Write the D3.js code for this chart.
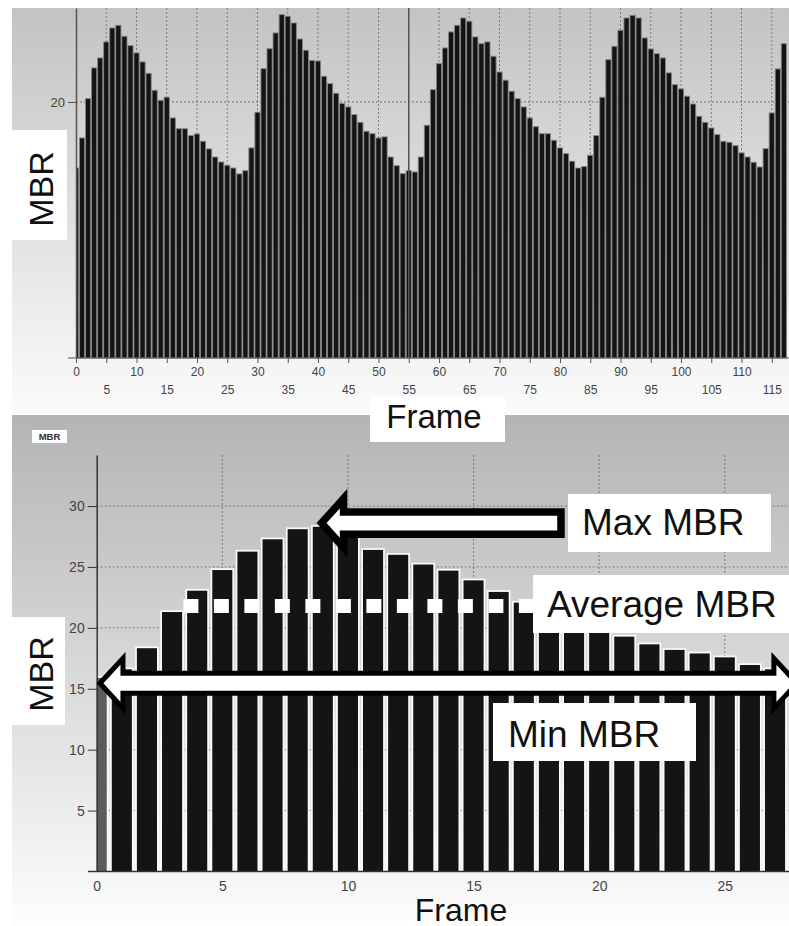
<!DOCTYPE html>
<html>
<head>
<meta charset="utf-8">
<script src="https://cdn.jsdelivr.net/npm/d3@7"></script>
<style>
  body { margin: 0; background: #fff; }
  svg { display: block; font-family: "Liberation Sans", Arial, sans-serif; }
</style>
</head>
<body>
<svg id="chart" width="789" height="926"></svg>
<script>
// MBR per frame, whole sequence (top chart)
const topMBR = [
  14.84, 17.19, 20.26, 22.66, 23.44, 24.69, 25.78, 25.99, 25.13, 24.40,
  23.83, 23.13, 22.24, 20.91, 20.13, 20.37, 18.75, 17.91, 17.91, 17.37,
  17.50, 16.93, 16.33, 15.70, 15.31, 15.05, 14.84, 14.38, 14.63, 16.41,
  19.20, 22.60, 24.16, 25.39, 26.82, 26.70, 26.17, 24.92, 24.04, 23.23,
  23.20, 22.01, 21.43, 20.68, 19.87, 19.61, 19.01, 18.41, 17.71, 17.52,
  17.19, 17.27, 15.70, 15.02, 14.40, 14.63, 14.53, 15.70, 18.18, 20.96,
  22.99, 24.22, 25.47, 25.99, 26.56, 26.30, 25.08, 24.55, 24.69, 23.57,
  22.34, 21.70, 20.84, 20.26, 19.61, 18.75, 18.07, 17.52, 17.52, 17.01,
  16.41, 15.96, 15.37, 14.84, 14.95, 15.84, 17.37, 20.37, 23.30, 24.35,
  25.60, 26.56, 26.77, 26.56, 25.00, 24.14, 23.77, 23.44, 22.27, 21.35,
  21.02, 20.45, 19.84, 18.88, 18.41, 17.97, 17.45, 16.93, 16.85, 16.59,
  16.02, 15.70, 15.29, 14.92, 16.35, 19.14, 22.58, 24.55
];
const topXTicks = [0, 5, 10, 15, 20, 25, 30, 35, 40, 45, 50, 55, 60, 65, 70, 75, 80, 85, 90, 95, 100, 105, 110, 115];
const topYTicks = [20];
const cursorFrame = 55;

// MBR per frame, one cycle (bottom chart)
const bottomMBR = [
  15.9, 16.6, 18.33, 21.3, 23.05, 24.75, 26.26, 27.27, 28.1, 28.3,
  27.7, 26.4, 26.0, 25.2, 24.7, 23.9, 22.95, 22.07, 19.6, 19.6,
  19.6, 19.28, 18.65, 18.19, 17.9, 17.58, 16.95, 16.6
];
const bottomXTicks = [0, 5, 10, 15, 20, 25];
const bottomYTicks = [5, 10, 15, 20, 25, 30];

const maxMBR = 28.6;
const avgMBR = 21.8;
const minMBR = 15.45;

const svg = d3.select('#chart');
const defs = svg.append('defs');

function gradient(id, from, to) {
  const gr = defs.append('linearGradient').attr('id', id)
    .attr('x1', 0).attr('y1', 0).attr('x2', 0).attr('y2', 1);
  gr.append('stop').attr('offset', '0%').attr('stop-color', from);
  gr.append('stop').attr('offset', '100%').attr('stop-color', to);
}
gradient('bgTop', '#c3c3c3', '#fbfbfb');
gradient('bgBot', '#b4b4b4', '#fdfdfd');

defs.append('clipPath').attr('id', 'clipTop')
  .append('rect').attr('x', 76).attr('y', 0).attr('width', 713).attr('height', 360);
defs.append('clipPath').attr('id', 'clipBot')
  .append('rect').attr('x', 96.7).attr('y', 400).attr('width', 700).attr('height', 472);

// panel backgrounds
svg.append('rect').attr('x', 12).attr('y', 8).attr('width', 777).attr('height', 406)
  .attr('fill', 'url(#bgTop)');
svg.append('rect').attr('x', 12).attr('y', 415).attr('width', 777).attr('height', 511)
  .attr('fill', 'url(#bgBot)');

// ---------- top chart ----------
const xTop = d3.scaleLinear().domain([0, 117.85]).range([76, 789]);
const yTop = d3.scaleLinear().domain([0, 27.34]).range([358, 8]);
const gTop = svg.append('g');

gTop.selectAll('line.vgrid').data(topXTicks.filter(d => d > 0))
  .enter().append('line')
  .attr('class', 'vgrid')
  .attr('x1', d => xTop(d)).attr('x2', d => xTop(d))
  .attr('y1', yTop.range()[1]).attr('y2', yTop.range()[0])
  .attr('stroke', '#7d7d7d').attr('stroke-width', 1).attr('stroke-dasharray', '2,2');

gTop.selectAll('line.hgrid').data(topYTicks)
  .enter().append('line')
  .attr('class', 'hgrid')
  .attr('x1', 76).attr('x2', 789)
  .attr('y1', d => yTop(d)).attr('y2', d => yTop(d))
  .attr('stroke', '#6e6e6e').attr('stroke-width', 1).attr('stroke-dasharray', '2,2');

const topStep = xTop(1) - xTop(0);
gTop.append('g').attr('clip-path', 'url(#clipTop)')
  .selectAll('rect').data(topMBR)
  .enter().append('rect')
  .attr('x', (d, i) => xTop(i) - topStep * 0.43)
  .attr('width', topStep * 0.86)
  .attr('y', d => yTop(d))
  .attr('height', d => yTop(0) - yTop(d))
  .attr('fill', '#141414')
  .attr('stroke', '#858585')
  .attr('stroke-width', 0.9);

gTop.append('line')
  .attr('x1', xTop(cursorFrame)).attr('x2', xTop(cursorFrame))
  .attr('y1', yTop.range()[1]).attr('y2', yTop(0))
  .attr('stroke', '#555').attr('stroke-width', 1.5);

// axes
const yAxisTop = gTop.append('g').attr('transform', 'translate(76,0)')
  .call(d3.axisLeft(yTop).tickValues(topYTicks).tickSize(8).tickSizeOuter(0).tickPadding(3));
yAxisTop.select('.domain').attr('stroke', '#555').attr('stroke-width', 1.5);
yAxisTop.selectAll('.tick line').attr('stroke', '#555');
yAxisTop.selectAll('text').attr('font-size', 13).attr('fill', '#444')
  .attr('font-family', '"Liberation Sans", Arial, sans-serif');

gTop.append('line').attr('x1', 68).attr('x2', 789)
  .attr('y1', yTop(0)).attr('y2', yTop(0))
  .attr('stroke', '#555').attr('stroke-width', 1.2);

const xAxisTop = gTop.append('g').attr('transform', `translate(0,${yTop(0)})`)
  .call(d3.axisBottom(xTop).tickValues(topXTicks).tickSize(5).tickSizeOuter(0));
xAxisTop.select('.domain').remove();
xAxisTop.selectAll('.tick line').attr('stroke', '#555');
xAxisTop.selectAll('text')
  .attr('y', d => d % 10 === 0 ? 9 : 27.5)
  .attr('font-size', 12).attr('fill', '#444')
  .attr('font-family', '"Liberation Sans", Arial, sans-serif');

// top labels
svg.append('rect').attr('x', 12).attr('y', 130).attr('width', 55).attr('height', 110).attr('fill', '#fff');
svg.append('text').attr('transform', 'translate(53,189) rotate(-90)')
  .attr('text-anchor', 'middle').attr('font-size', 34).attr('fill', '#111').text('MBR');

svg.append('rect').attr('x', 370).attr('y', 396).attr('width', 135).attr('height', 46).attr('fill', '#fff');
svg.append('text').attr('x', 434).attr('y', 428)
  .attr('text-anchor', 'middle').attr('font-size', 33).attr('fill', '#111').text('Frame');

// ---------- bottom chart ----------
const xBot = d3.scaleLinear().domain([0, 27.556]).range([96.7, 789]);
const yBot = d3.scaleLinear().domain([0, 34.19]).range([871.5, 455]);
const gBot = svg.append('g');

gBot.selectAll('line.hgrid').data(bottomYTicks)
  .enter().append('line')
  .attr('class', 'hgrid')
  .attr('x1', xBot(0)).attr('x2', 789)
  .attr('y1', d => yBot(d)).attr('y2', d => yBot(d))
  .attr('stroke', '#7a7a7a').attr('stroke-dasharray', '2,2');
gBot.selectAll('line.vgrid').data(bottomXTicks.filter(d => d > 0))
  .enter().append('line')
  .attr('class', 'vgrid')
  .attr('x1', d => xBot(d)).attr('x2', d => xBot(d))
  .attr('y1', yBot.range()[1]).attr('y2', yBot(0))
  .attr('stroke', '#7a7a7a').attr('stroke-dasharray', '2,2');

const botStep = xBot(1) - xBot(0);
gBot.append('g').attr('clip-path', 'url(#clipBot)')
  .selectAll('rect').data(bottomMBR)
  .enter().append('rect')
  .attr('x', (d, i) => xBot(i) - botStep * 0.4)
  .attr('width', botStep * 0.8)
  .attr('y', d => yBot(d))
  .attr('height', d => yBot(0) - yBot(d))
  .attr('fill', (d, i) => i === 0 ? '#5c5c5c' : '#141414')
  .attr('stroke', '#fafafa')
  .attr('stroke-width', 3.5)
  .style('paint-order', 'stroke');

const yAxisBot = gBot.append('g').attr('transform', `translate(${xBot(0)},0)`)
  .call(d3.axisLeft(yBot).tickValues(bottomYTicks).tickSize(9).tickSizeOuter(0).tickPadding(3));
yAxisBot.select('.domain').attr('stroke', '#333').attr('stroke-width', 1.5);
yAxisBot.selectAll('.tick line').attr('stroke', '#333');
yAxisBot.selectAll('text').attr('font-size', 14).attr('fill', '#444')
  .attr('font-family', '"Liberation Sans", Arial, sans-serif');

gBot.append('line').attr('x1', 88).attr('x2', 789)
  .attr('y1', yBot(0)).attr('y2', yBot(0))
  .attr('stroke', '#333').attr('stroke-width', 1.5);
const xAxisBot = gBot.append('g').attr('transform', `translate(0,${yBot(0)})`)
  .call(d3.axisBottom(xBot).tickValues(bottomXTicks).tickSize(0).tickSizeOuter(0));
xAxisBot.select('.domain').remove();
xAxisBot.selectAll('text').attr('y', 10)
  .attr('font-size', 14).attr('fill', '#444')
  .attr('font-family', '"Liberation Sans", Arial, sans-serif');

// average dashes
gBot.append('line')
  .attr('x1', xBot(3.45)).attr('x2', 533)
  .attr('y1', yBot(avgMBR)).attr('y2', yBot(avgMBR))
  .attr('stroke', '#fff').attr('stroke-width', 14)
  .attr('stroke-dasharray', '15,15.5');

function leftArrow(tx, ex, cy, hl, hh, sh) {
  return `M${tx},${cy} L${tx + hl},${cy - hh} L${tx + hl},${cy - sh} L${ex},${cy - sh}` +
    ` L${ex},${cy + sh} L${tx + hl},${cy + sh} L${tx + hl},${cy + hh} Z`;
}
function doubleArrow(lx, rx, cy, hl, hh, sh) {
  return `M${lx},${cy} L${lx + hl},${cy - hh} L${lx + hl},${cy - sh} L${rx - hl},${cy - sh}` +
    ` L${rx - hl},${cy - hh} L${rx},${cy} L${rx - hl},${cy + hh} L${rx - hl},${cy + sh}` +
    ` L${lx + hl},${cy + sh} L${lx + hl},${cy + hh} Z`;
}
// max arrow (points left), min arrow (both ways)
gBot.append('path')
  .attr('d', leftArrow(xBot(8.95), xBot(18.48), yBot(maxMBR), 22, 24.5, 11.2))
  .attr('fill', '#fff').attr('stroke', '#000').attr('stroke-width', 7.5)
  .attr('stroke-linejoin', 'miter');
gBot.append('path')
  .attr('d', doubleArrow(xBot(0.13), xBot(27.87), yBot(minMBR), 23, 25, 10))
  .attr('fill', '#fff').attr('stroke', '#000').attr('stroke-width', 5)
  .attr('stroke-linejoin', 'miter');

// annotation labels
function labelBox(x, y, w, h, tx, ty, txt) {
  svg.append('rect').attr('x', x).attr('y', y).attr('width', w).attr('height', h).attr('fill', '#fff');
  svg.append('text').attr('x', tx).attr('y', ty).attr('font-size', 37).attr('fill', '#111').text(txt);
}
labelBox(568, 494, 203, 58, 582, 535, 'Max MBR');
labelBox(533, 575, 256, 58, 547, 617, 'Average MBR');
labelBox(493, 703, 203, 58, 508, 747, 'Min MBR');

// bottom axis titles
svg.append('rect').attr('x', 32).attr('y', 430).attr('width', 35).attr('height', 13).attr('fill', '#fff');
svg.append('text').attr('x', 49.5).attr('y', 440).attr('text-anchor', 'middle')
  .attr('font-size', 9.5).attr('font-weight', 'bold').attr('fill', '#333').text('MBR');

svg.append('rect').attr('x', 12).attr('y', 617).attr('width', 53).attr('height', 108).attr('fill', '#fff');
svg.append('text').attr('transform', 'translate(53,674) rotate(-90)')
  .attr('text-anchor', 'middle').attr('font-size', 34).attr('fill', '#111').text('MBR');

svg.append('text').attr('x', 461).attr('y', 921)
  .attr('text-anchor', 'middle').attr('font-size', 32).attr('fill', '#111').text('Frame');
</script>
</body>
</html>
